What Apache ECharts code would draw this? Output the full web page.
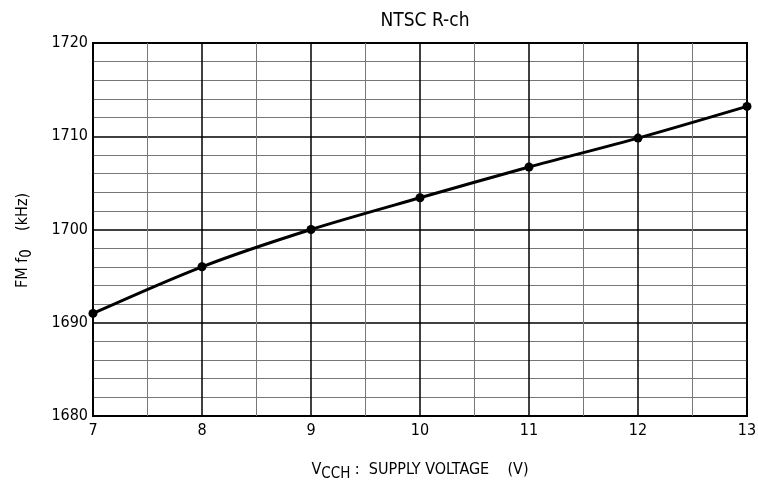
<!DOCTYPE html>
<html>
<head>
<meta charset="utf-8">
<script src="https://cdn.jsdelivr.net/npm/echarts@6/dist/echarts.min.js"></script>
<style>
  html, body { margin: 0; padding: 0; background: #fff; }
  #chart { width: 758px; height: 485px; }
</style>
</head>
<body>
<div id="chart"></div>
<script>
// supply voltage (V) and measured FM f0 (kHz)
var voltage = [7, 8, 9, 10, 11, 12, 13];
var freq = [1691.0, 1696.0, 1700.0, 1703.4, 1706.7, 1709.8, 1713.2];

var font = "'DejaVu Sans Condensed', 'DejaVu Sans', sans-serif";

var chart = echarts.init(document.getElementById('chart'));
var option = {
  backgroundColor: '#fff',
  animation: false,
  title: {
    text: 'NTSC R-ch',
    left: 420,
    textAlign: 'center',
    top: 7,
    textStyle: { fontFamily: font, fontSize: 19, fontWeight: 'normal', color: '#000' }
  },
  grid: {
    left: 93, right: 11, top: 43, bottom: 69,
    outerBoundsMode: 'none',
    containLabel: false,
    show: true, borderColor: '#000', borderWidth: 2
  },
  xAxis: {
    type: 'value',
    min: 7, max: 13, interval: 1,
    axisLine: { show: false },
    axisTick: { show: false },
    axisLabel: { fontFamily: font, fontSize: 16, color: '#000', margin: 7 },
    splitLine: { show: true, lineStyle: { color: '#000', width: 1.5 } },
    minorTick: { show: false, splitNumber: 2 },
    minorSplitLine: { show: true, lineStyle: { color: '#777', width: 1 } },
    name: '{n|V}{s|CCH}{n| :  SUPPLY VOLTAGE    (V)}',
    nameLocation: 'middle',
    nameGap: 41,
    nameTextStyle: {
      rich: {
        n: { fontFamily: font, fontSize: 16, color: '#000' },
        s: { fontFamily: font, fontSize: 15, color: '#000', padding: [10, 0, 0, 0] }
      }
    }
  },
  yAxis: {
    type: 'value',
    min: 1680, max: 1720, interval: 10,
    axisLine: { show: false },
    axisTick: { show: false },
    axisLabel: {
      fontFamily: font, fontSize: 16, color: '#000', margin: 5,
      formatter: function (v) { return String(v); }
    },
    splitLine: { show: true, lineStyle: { color: '#000', width: 1.5 } },
    minorTick: { show: false, splitNumber: 5 },
    minorSplitLine: { show: true, lineStyle: { color: '#777', width: 1 } },
    name: '{n|FM f}{s|0}{n|    (kHz)}',
    nameLocation: 'middle',
    nameGap: 58,
    nameTextStyle: {
      padding: [0, 22, 0, 0],
      rich: {
        n: { fontFamily: font, fontSize: 16, color: '#000' },
        s: { fontFamily: font, fontSize: 15, color: '#000', padding: [10, 0, 0, 0] }
      }
    }
  },
  series: [{
    type: 'line',
    data: voltage.map(function (v, i) { return [v, freq[i]]; }),
    smooth: 0.3,
    symbol: 'circle',
    symbolSize: 9,
    itemStyle: { color: '#000' },
    lineStyle: { color: '#000', width: 3 }
  }]
};
chart.setOption(option);
</script>
</body>
</html>
